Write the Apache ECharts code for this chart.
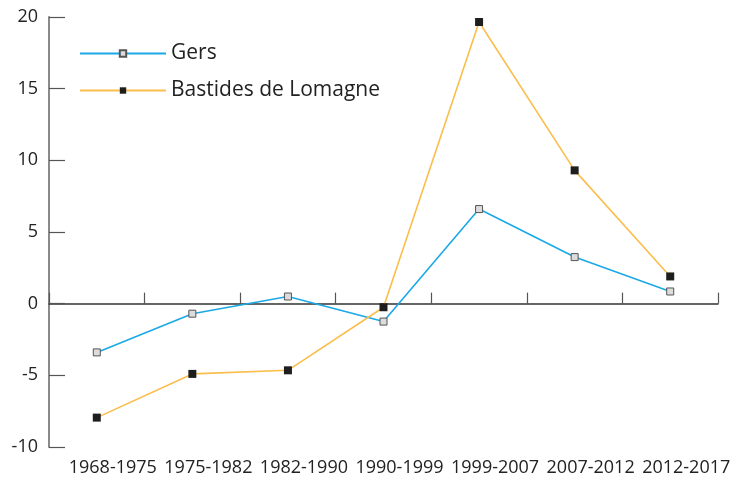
<!DOCTYPE html>
<html>
<head>
<meta charset="utf-8">
<script src="https://cdn.jsdelivr.net/npm/echarts@6/dist/echarts.min.js"></script>
<style>html,body{margin:0;padding:0;background:#fff}#c{width:736px;height:477px}</style>
</head>
<body>
<div id="c"></div>
<script>
const categories = ['1968-1975','1975-1982','1982-1990','1990-1999','1999-2007','2007-2012','2012-2017'];
const gers = [-3.4, -0.7, 0.5, -1.25, 6.6, 3.25, 0.85];
const bastides = [-7.95, -4.9, -4.65, -0.25, 19.65, 9.3, 1.9];
const yTicks = [-10, -5, 0, 5, 10, 15, 20];

const font = '"Open Sans", "Noto Sans", sans-serif';
const chart = echarts.init(document.getElementById('c'));
chart.setOption({
  animation: false,
  backgroundColor: '#fff',
  grid: { left: 49, right: 18, top: 17, bottom: 30 },
  legend: {
    orient: 'vertical', left: 74, top: 38,
    itemWidth: 86, itemHeight: 8, itemGap: 16,
    textStyle: { fontFamily: font, fontSize: 21, color: '#222' },
    data: ['Gers', 'Bastides de Lomagne']
  },
  xAxis: [{
    type: 'category', data: categories, boundaryGap: true,
    axisLine: { onZero: true, lineStyle: { color: '#333', width: 1.5 } },
    axisTick: { show: true, inside: true, length: 11, lineStyle: { color: '#555', width: 1.2 } },
    axisLabel: { show: false }
  }, {
    type: 'category', data: categories, boundaryGap: true, position: 'bottom',
    axisLine: { show: false, onZero: false },
    axisTick: { show: false },
    axisLabel: { interval: 0, margin: 12, fontFamily: font, fontSize: 18, color: '#222', padding: [0,0,0,32] }
  }],
  yAxis: {
    type: 'value', min: -10, max: 20, interval: 5,
    axisLine: { show: true, lineStyle: { color: '#8a8a8a', width: 2 } },
    axisTick: { show: true, inside: true, length: 16, lineStyle: { color: '#555', width: 1.2 } },
    axisLabel: { margin: 11, fontFamily: font, fontSize: 18, color: '#222',
      formatter: v => yTicks.indexOf(v) >= 0 ? String(v) : '' },
    splitLine: { show: false }
  },
  series: [{
    name: 'Gers', type: 'line', data: gers, xAxisIndex: 0,
    symbol: 'rect', symbolSize: 7,
    lineStyle: { color: '#1aa9e6', width: 1.6 },
    itemStyle: { color: '#dcdcdc', borderColor: '#555', borderWidth: 1 },
    z: 3
  }, {
    name: 'Bastides de Lomagne', type: 'line', data: bastides, xAxisIndex: 0,
    symbol: 'rect', symbolSize: 8,
    lineStyle: { color: '#fbbd4c', width: 1.6 },
    itemStyle: { color: '#1e1e1e', borderColor: '#1e1e1e', borderWidth: 0 },
    z: 4
  }]
});
</script>
</body>
</html>
